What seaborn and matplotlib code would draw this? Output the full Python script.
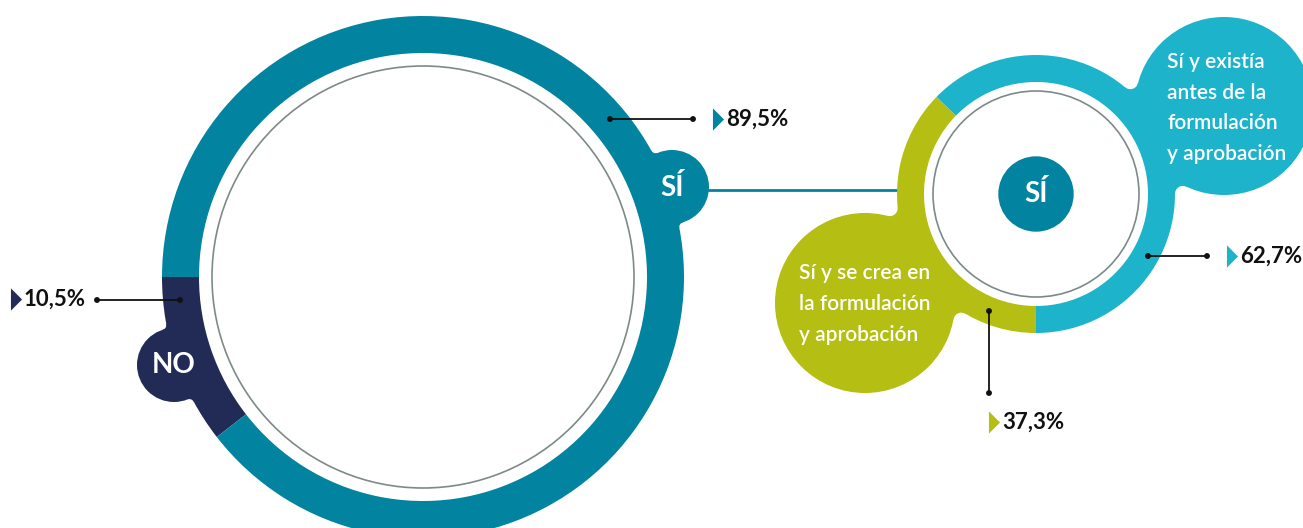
import matplotlib
matplotlib.use("Agg")
import matplotlib.pyplot as plt
import seaborn as sns
import numpy as np
import pandas as pd
from matplotlib.patches import Circle, Polygon

# -----------------------------
# Data
# -----------------------------
main_labels = ["NO", "SÍ"]
main_values = [10.5, 89.5]

sub_labels = ["Sí y existía\nantes de la\nformulación\ny aprobación",
              "Sí y se crea en\nla formulación\ny aprobación"]
sub_values = [62.7, 37.3]

# -----------------------------
# Style
# -----------------------------
TEAL = "#02839f"
NAVY = "#222b55"
CYAN = "#1cb3cb"
OLIVE = "#b5be12"
GRAY = "#7d8a8a"

sns.set_theme(style="white")
plt.rcParams["font.family"] = ["Lato", "DejaVu Sans"]

W, H = 1303, 528


def Y(y):
    # pixel row -> data y (origin at the bottom)
    return H - y


def pct(v):
    return f"{v:.1f}".replace(".", ",") + "%"


def bubble(ax, ring_c, ring_r, c, r, f, color):
    # bubble circle plus two smooth concave joins to the ring
    ax.add_patch(Circle(c, r, color=color, zorder=4, lw=0))
    c1 = np.array(ring_c, float)
    c2 = np.array(c, float)
    d = np.linalg.norm(c2 - c1)
    u = (c2 - c1) / d
    n = np.array([-u[1], u[0]])
    a, b = ring_r + f, r + f
    x = (a * a - b * b + d * d) / (2 * d)
    h = np.sqrt(a * a - x * x)
    for s in (1, -1):
        F = c1 + x * u + s * h * n
        T1 = c1 + (F - c1) * ring_r / a
        T2 = c2 + (F - c2) * r / b
        t1 = np.arctan2(*(T1 - F)[::-1])
        t2 = np.arctan2(*(T2 - F)[::-1])
        dt = (t2 - t1 + np.pi) % (2 * np.pi) - np.pi
        tt = t1 + np.linspace(0, dt, 30)
        arc = np.column_stack([F[0] + f * np.cos(tt), F[1] + f * np.sin(tt)])
        P1 = c1 + (T1 - c1) * (ring_r - 6) / ring_r
        Q = c1 + u * (ring_r - 6)
        pts = np.vstack([P1, arc, c2, Q])
        ax.add_patch(Polygon(pts, closed=True, color=color, lw=0, zorder=4))


fig = plt.figure(figsize=(13.03, 5.28), dpi=100)
ax = fig.add_axes([0, 0, 1, 1])

# -----------------------------
# Big ring
# -----------------------------
big_c = (423, Y(277))
ax.pie(main_values, colors=[NAVY, TEAL], startangle=180, counterclock=True,
       center=big_c, radius=261,
       wedgeprops=dict(width=37, edgecolor="none", linewidth=0))
ax.add_patch(Circle(big_c, 211, fill=False, ec=GRAY, lw=1.2, zorder=3))

# connector to the small ring
ax.plot([700, 900], [Y(190), Y(190)], color=TEAL, lw=2, zorder=0.5)

# bubbles on the big ring
bubble(ax, big_c, 261, (174, Y(365)), 37, 5, NAVY)
ax.text(174, Y(365), main_labels[0], color="white", fontsize=20,
        fontweight="bold", ha="center", va="center", zorder=5)
bubble(ax, big_c, 261, (672, Y(187)), 37, 5, TEAL)
ax.text(672, Y(187), main_labels[1], color="white", fontsize=20,
        fontweight="bold", ha="center", va="center", zorder=5)

# -----------------------------
# Small ring
# -----------------------------
small_c = (1036, Y(194))
ax.pie(sub_values, colors=[CYAN, OLIVE], startangle=270, counterclock=True,
       center=small_c, radius=139,
       wedgeprops=dict(width=27, edgecolor="none", linewidth=0))
ax.add_patch(Circle(small_c, 103, fill=False, ec=GRAY, lw=1.2, zorder=3))
ax.add_patch(Circle(small_c, 37, color=TEAL, zorder=4))
ax.text(small_c[0], small_c[1], main_labels[1], color="white", fontsize=20,
        fontweight="bold", ha="center", va="center", zorder=5)

bubble(ax, small_c, 139, (1224, Y(106)), 89, 8, CYAN)
ax.text(1167, Y(108), sub_labels[0], color="white", fontsize=15,
        fontweight="semibold", ha="left", va="center", linespacing=1.67, zorder=5)
bubble(ax, small_c, 139, (865, Y(303)), 90, 8, OLIVE)
ax.text(799, Y(304), sub_labels[1], color="white", fontsize=15,
        fontweight="semibold", ha="left", va="center", linespacing=1.67, zorder=5)

# -----------------------------
# Leaders and percentage labels
# -----------------------------
leaders = pd.DataFrame({
    "x0": [610, 97, 1148, 989],
    "y0": [119, 300, 256, 311],
    "x1": [693, 180, 1207, 989],
    "y1": [119, 300, 256, 393],
})
for _, r in leaders.iterrows():
    ax.plot([r.x0, r.x1], [Y(r.y0), Y(r.y1)], color="#111111", lw=1.3, zorder=6)
dots = pd.DataFrame({
    "x": list(leaders.x0) + list(leaders.x1),
    "y": [Y(v) for v in list(leaders.y0) + list(leaders.y1)],
})
sns.scatterplot(data=dots, x="x", y="y", ax=ax, color="#111111", s=18,
                edgecolor="none", zorder=7, legend=False)

tri = [(-0.5, -1), (-0.5, 1), (0.5, 0)]
labels = [
    (718, 119, main_values[1], TEAL),
    (16, 299, main_values[0], NAVY),
    (1232, 256, sub_values[0], CYAN),
    (994, 422, sub_values[1], OLIVE),
]
for x, y, v, c in labels:
    ax.plot([x], [Y(y)], marker=tri, ms=16, color=c, mec="none", zorder=6)
    ax.text(x + 8, Y(y), pct(v), color="#111111", fontsize=16,
            fontweight="bold", ha="left", va="center", zorder=6)

ax.set_xlim(0, W)
ax.set_ylim(0, H)
ax.set_aspect("equal")
ax.axis("off")

fig.savefig("out.png", dpi=100, facecolor="white")
